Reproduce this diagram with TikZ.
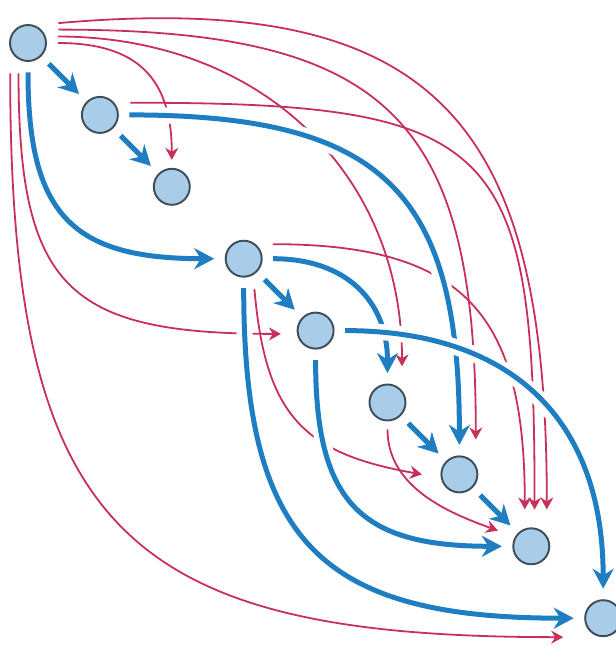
\documentclass[tikz,border=0pt]{standalone}
\usepackage[dvipsnames]{xcolor}
\usetikzlibrary{arrows.meta,positioning}

\definecolor{treeblue}{HTML}{1F7EC2}
\definecolor{jumpred}{HTML}{C8305A}
\definecolor{nodefill}{HTML}{A9CDE8}
\definecolor{nodeline}{HTML}{3E4E58}

\begin{document}
\begin{tikzpicture}[x=0.02cm,y=-0.02cm,node distance=2.034cm,
    main node/.style={circle,draw=nodeline,fill=nodefill,line width=1.1pt,minimum size=0.72cm,inner sep=0pt},
    tree/.style={every edge/.style={draw=treeblue,line width=0.1cm,-{Stealth[length=0.4cm,width=0.42cm]},
        preaction={draw=white,line width=0.32cm,-},shorten <=0.21cm,shorten >=0.21cm}},
    jump/.style={every edge/.style={draw=jumpred,line width=0.036cm,-{Stealth[length=0.24cm,width=0.26cm]}}}]
    \useasboundingbox (0,0) rectangle (616,650);

    \node[main node] (1) at (28,43) {};
    \node[main node] (2) [below right of=1] {};
    \node[main node] (3) [below right of=2] {};
    \node[main node] (4) [below right of=3] {};
    \node[main node] (5) [below right of=4] {};
    \node[main node] (6) [below right of=5] {};
    \node[main node] (7) [below right of=6] {};
    \node[main node] (8) [below right of=7] {};
    \node[main node] (9) [below right of=8] {};

    % shortcut edges
    \path[jump]
        (1.east) edge [out=0, in=90, looseness=1.3, shorten <=0.22cm, shorten >=0.16cm] (3.north)
        (1.20) edge [out=0, in=90, looseness=1.1, shorten <=0.24cm, shorten >=0.48cm] (6.40)
        (1.45) edge [out=0, in=90, looseness=1.44, shorten <=0.34cm, shorten >=0.51cm] (7.30)
        (1.70) edge [out=5, in=90, looseness=1.45, shorten <=0.48cm, shorten >=0.52cm] (8.35)
        (2.40) edge [out=0, in=90, looseness=1.65, shorten <=0.32cm, shorten >=0.36cm] (8.80)
        (4.50) edge [out=0, in=90, looseness=1.38, shorten <=0.34cm, shorten >=0.38cm] (8.110)
        (1.240) edge [out=-90, in=180, looseness=1.5, shorten <=0.28cm, shorten >=0.32cm] (5.190)
        (1.200) edge [out=-90, in=180, looseness=1.47, shorten <=0.48cm, shorten >=0.8cm] (9.south)
        (4.300) edge [out=-85, in=170, looseness=1.3, shorten <=0.28cm, shorten >=0.38cm] (7.190)
        (6.south) edge [out=-90, in=160, looseness=1, shorten <=0.16cm, shorten >=0.36cm] (8.150)
        ;

    % tree edges
    \path[tree]
        (1) edge (2)
        (2) edge (3)
        (1.south) edge [out=-90, in=180, looseness=1.4] (4.west)
        (2.east) edge [out=0, in=90, looseness=1.4] (7.north)
        (4) edge (5)
        (4.east) edge [out=0, in=90, looseness=1.2] (6.north)
        (4.south) edge [out=-90, in=180, looseness=1.4] (9.west)
        (5.south) edge [out=-90, in=180, looseness=1.4] (8.west)
        (5.east) edge [out=0, in=90, looseness=1.2] (9.north)
        (6) edge (7)
        (7) edge (8)
        ;
\end{tikzpicture}
\end{document}
